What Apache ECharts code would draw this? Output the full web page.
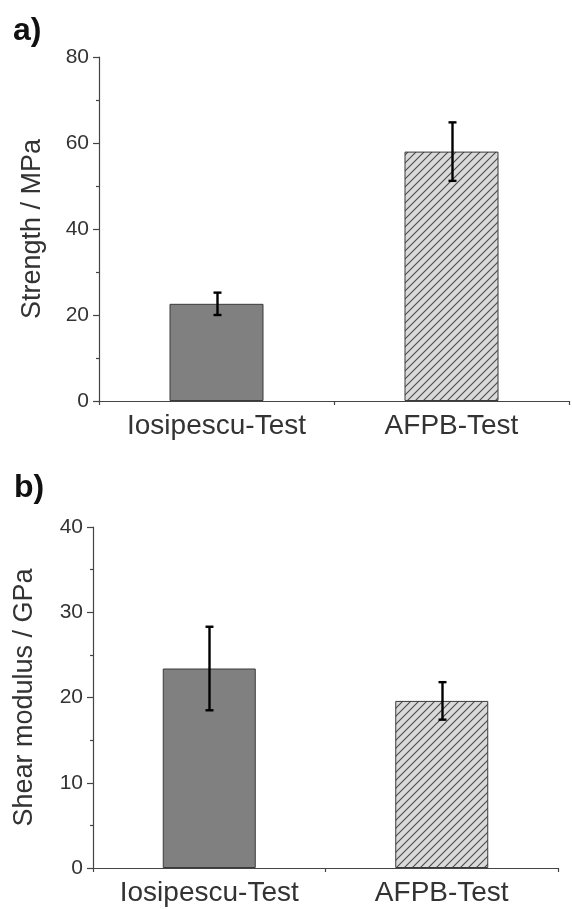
<!DOCTYPE html>
<html>
<head>
<meta charset="utf-8">
<script src="https://cdn.jsdelivr.net/npm/echarts@6/dist/echarts.min.js"></script>
<style>
html,body{margin:0;padding:0;background:#fff;}
#chart{width:572px;height:909px;}
</style>
</head>
<body>
<div id="chart"></div>
<script>
// ---- data ----
var categories = ['Iosipescu-Test', 'AFPB-Test'];
var strengthValues = [22.6, 58.0];
var strengthErrors = [2.6, 6.8];
var modulusValues = [23.4, 19.6];
var modulusErrors = [4.9, 2.2];
var strengthTicks = { min: 0, max: 80, interval: 20 };
var modulusTicks = { min: 0, max: 40, interval: 10 };

// ---- hatch pattern ----
function makeHatch() {
  var c = document.createElement('canvas');
  var s = 8;
  c.width = s; c.height = s;
  var g = c.getContext('2d');
  g.fillStyle = '#dadada';
  g.fillRect(0, 0, s, s);
  g.strokeStyle = '#4a4a4a';
  g.lineWidth = 1.1;
  g.beginPath();
  g.moveTo(-1, s + 1); g.lineTo(s + 1, -1);
  g.moveTo(-1, 1); g.lineTo(1, -1);
  g.moveTo(s - 1, s + 1); g.lineTo(s + 1, s - 1);
  g.stroke();
  return c;
}
var hatch = { image: makeHatch(), repeat: 'repeat' };

var FONT = '"Liberation Sans", Arial, sans-serif';
var axisColor = '#444';
var textColor = '#333';

function barData(values) {
  return values.map(function (v, i) {
    return {
      value: v,
      itemStyle: {
        color: i === 0 ? '#808080' : hatch,
        borderColor: '#3a3a3a',
        borderWidth: 1
      }
    };
  });
}

function errData(values, errors) {
  return values.map(function (v, i) { return [i, v - errors[i], v + errors[i]]; });
}

function errRender(params, api) {
  var lo = api.coord([api.value(0), api.value(1)]);
  var hi = api.coord([api.value(0), api.value(2)]);
  var x = Math.round(lo[0]) + 0.5;
  var cap = 4;
  var st = { stroke: '#000', lineWidth: 2.4 };
  return {
    type: 'group',
    children: [
      { type: 'line', shape: { x1: x, y1: hi[1], x2: x, y2: lo[1] }, style: st },
      { type: 'line', shape: { x1: x - cap, y1: hi[1], x2: x + cap, y2: hi[1] }, style: st },
      { type: 'line', shape: { x1: x - cap, y1: lo[1], x2: x + cap, y2: lo[1] }, style: st }
    ]
  };
}

function xAxis(gridIndex) {
  return {
    type: 'category',
    gridIndex: gridIndex,
    data: categories,
    axisLine: { lineStyle: { color: axisColor, width: 1.2 } },
    axisTick: { show: true, length: 4, lineStyle: { color: axisColor, width: 1.2 } },
    axisLabel: { color: textColor, fontFamily: FONT, fontSize: 28, margin: 11, interval: 0, hideOverlap: false },
    splitLine: { show: false }
  };
}

function yAxis(gridIndex, ticks, name, gap) {
  return {
    type: 'value',
    gridIndex: gridIndex,
    min: ticks.min,
    max: ticks.max,
    interval: ticks.interval,
    name: name,
    nameLocation: 'middle',
    nameGap: gap,
    nameTextStyle: { color: textColor, fontFamily: FONT, fontSize: 27 },
    axisLine: { show: true, lineStyle: { color: axisColor, width: 1.2 } },
    axisTick: { show: true, length: 6, lineStyle: { color: axisColor, width: 1.2 } },
    minorTick: { show: true, splitNumber: 2, length: 3, lineStyle: { color: axisColor, width: 1.2 } },
    axisLabel: { color: textColor, fontFamily: FONT, fontSize: 21, margin: 10 },
    splitLine: { show: false }
  };
}

var chart = echarts.init(document.getElementById('chart'), null, { renderer: 'canvas' });
chart.setOption({
  backgroundColor: '#fff',
  animation: false,
  grid: [
    { left: 99, top: 57, right: 3, height: 344 },
    { left: 93, top: 527, right: 14, height: 341 }
  ],
  xAxis: [xAxis(0), xAxis(1)],
  yAxis: [
    yAxis(0, strengthTicks, 'Strength / MPa', 53),
    yAxis(1, modulusTicks, 'Shear modulus / GPa', 55)
  ],
  graphic: [
    { type: 'text', left: 13, top: 15, style: { text: 'a)', fontFamily: FONT, fontWeight: 'bold', fontSize: 32, fill: '#111' } },
    { type: 'text', left: 14, top: 472, style: { text: 'b)', fontFamily: FONT, fontWeight: 'bold', fontSize: 32, fill: '#111' } }
  ],
  series: [
    { type: 'bar', xAxisIndex: 0, yAxisIndex: 0, barWidth: '40%', data: barData(strengthValues) },
    { type: 'custom', xAxisIndex: 0, yAxisIndex: 0, renderItem: errRender, data: errData(strengthValues, strengthErrors), z: 5 },
    { type: 'bar', xAxisIndex: 1, yAxisIndex: 1, barWidth: '40%', data: barData(modulusValues) },
    { type: 'custom', xAxisIndex: 1, yAxisIndex: 1, renderItem: errRender, data: errData(modulusValues, modulusErrors), z: 5 }
  ]
});
</script>
</body>
</html>
